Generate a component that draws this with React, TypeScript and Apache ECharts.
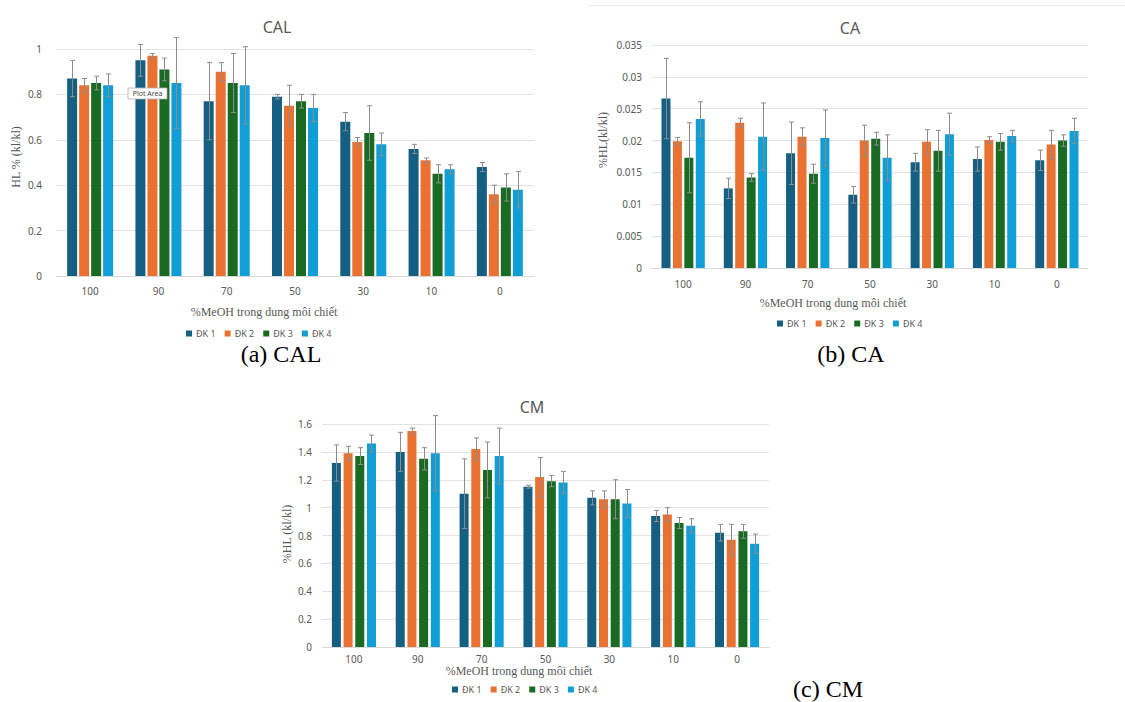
import React, { useEffect, useRef } from "react";
import * as echarts from "echarts";

const categories = ["100", "90", "70", "50", "30", "10", "0"];
const seriesNames = ["ĐK 1", "ĐK 2", "ĐK 3", "ĐK 4"];
const colors = ["#156082", "#E97132", "#196B24", "#0F9ED5"];

// CAL
const cal1 = [0.87, 0.95, 0.77, 0.79, 0.68, 0.56, 0.48];
const cal2 = [0.84, 0.97, 0.9, 0.75, 0.59, 0.51, 0.36];
const cal3 = [0.85, 0.91, 0.85, 0.77, 0.63, 0.45, 0.39];
const cal4 = [0.84, 0.85, 0.84, 0.74, 0.58, 0.47, 0.38];
const calErr1 = [0.08, 0.07, 0.17, 0.01, 0.04, 0.02, 0.02];
const calErr2 = [0.03, 0.01, 0.04, 0.09, 0.02, 0.01, 0.04];
const calErr3 = [0.03, 0.05, 0.13, 0.03, 0.12, 0.04, 0.06];
const calErr4 = [0.05, 0.2, 0.17, 0.06, 0.05, 0.02, 0.08];

// CA
const ca1 = [0.0266, 0.0125, 0.018, 0.0115, 0.0166, 0.0171, 0.0169];
const ca2 = [0.0199, 0.0228, 0.0206, 0.02, 0.0198, 0.0201, 0.0194];
const ca3 = [0.0173, 0.0142, 0.0148, 0.0203, 0.0184, 0.0198, 0.02];
const ca4 = [0.0234, 0.0206, 0.0204, 0.0173, 0.021, 0.0207, 0.0215];
const caErr1 = [0.0063, 0.0016, 0.0049, 0.0013, 0.0014, 0.0019, 0.0016];
const caErr2 = [0.0006, 0.0007, 0.0014, 0.0024, 0.0019, 0.0005, 0.0022];
const caErr3 = [0.0055, 0.0006, 0.0015, 0.001, 0.0032, 0.0013, 0.0009];
const caErr4 = [0.0027, 0.0053, 0.0044, 0.0036, 0.0033, 0.0009, 0.002];

// CM
const cm1 = [1.32, 1.4, 1.1, 1.15, 1.07, 0.94, 0.82];
const cm2 = [1.39, 1.55, 1.42, 1.22, 1.06, 0.95, 0.77];
const cm3 = [1.37, 1.35, 1.27, 1.19, 1.06, 0.89, 0.83];
const cm4 = [1.46, 1.39, 1.37, 1.18, 1.03, 0.87, 0.74];
const cmErr1 = [0.13, 0.14, 0.25, 0.01, 0.05, 0.04, 0.06];
const cmErr2 = [0.05, 0.02, 0.08, 0.14, 0.06, 0.05, 0.11];
const cmErr3 = [0.06, 0.08, 0.2, 0.04, 0.14, 0.04, 0.05];
const cmErr4 = [0.06, 0.27, 0.2, 0.08, 0.1, 0.05, 0.07];

const xName = "%MeOH trong dung môi chiết";
const SANS = "Noto Sans";
const SERIF = "Liberation Serif";
const GRAY = "#595959";

type Panel = {
  title: string;
  titleX: number;
  titleY: number;
  grid: { left: number; top: number; width: number; height: number };
  max: number;
  interval: number;
  values: number[][];
  errs: number[][];
  barWidth: number;
  gapPct: number;
  labelMargin: number;
  yLabelMargin: number;
  legendLeft: number;
  legendTop: number;
};

const panels: Panel[] = [
  {
    title: "CAL",
    titleX: 272,
    titleY: 14,
    grid: { left: 56, top: 49, width: 478, height: 227 },
    max: 1,
    interval: 0.2,
    values: [cal1, cal2, cal3, cal4],
    errs: [calErr1, calErr2, calErr3, calErr4],
    barWidth: 10,
    gapPct: 20,
    labelMargin: 10,
    yLabelMargin: 14,
    legendLeft: 181,
    legendTop: 324,
  },
  {
    title: "CA",
    titleX: 845,
    titleY: 15,
    grid: { left: 652, top: 45, width: 436, height: 223 },
    max: 0.035,
    interval: 0.005,
    values: [ca1, ca2, ca3, ca4],
    errs: [caErr1, caErr2, caErr3, caErr4],
    barWidth: 9,
    gapPct: 27,
    labelMargin: 11,
    yLabelMargin: 10,
    legendLeft: 772,
    legendTop: 314,
  },
  {
    title: "CM",
    titleX: 527,
    titleY: 394,
    grid: { left: 322, top: 424, width: 447, height: 223 },
    max: 1.6,
    interval: 0.2,
    values: [cm1, cm2, cm3, cm4],
    errs: [cmErr1, cmErr2, cmErr3, cmErr4],
    barWidth: 9,
    gapPct: 30,
    labelMargin: 7,
    yLabelMargin: 10,
    legendLeft: 447,
    legendTop: 680,
  },
];

function serifText(x: number, y: number, text: string, size: number, fill: string, rotate = false) {
  return {
    type: "text",
    x,
    y,
    rotation: rotate ? Math.PI / 2 : 0,
    style: {
      text,
      fontFamily: SERIF,
      fontSize: size,
      fill,
      align: "center",
      verticalAlign: "middle",
    },
  };
}

function buildOption() {
  const grid: any[] = [];
  const xAxis: any[] = [];
  const yAxis: any[] = [];
  const title: any[] = [];
  const legend: any[] = [];
  const series: any[] = [];

  panels.forEach((p, pi) => {
    grid.push({ ...p.grid, containLabel: false });
    title.push({
      text: p.title,
      left: p.titleX,
      top: p.titleY,
      textAlign: "center",
      textStyle: { fontFamily: SANS, fontSize: 16, fontWeight: "normal", color: GRAY },
    });
    xAxis.push({
      type: "category",
      gridIndex: pi,
      data: categories,
      axisLine: { lineStyle: { color: "#d9d9d9" } },
      axisTick: { show: false },
      axisLabel: { color: GRAY, fontFamily: SANS, fontSize: 10, margin: p.labelMargin },
    });
    yAxis.push({
      type: "value",
      gridIndex: pi,
      min: 0,
      max: p.max,
      interval: p.interval,
      axisLine: { show: false },
      axisTick: { show: false },
      splitLine: { lineStyle: { color: "#e3e3e3" } },
      axisLabel: { color: GRAY, fontFamily: SANS, fontSize: 10, margin: p.yLabelMargin },
    });
    legend.push({
      data: seriesNames,
      left: p.legendLeft,
      top: p.legendTop,
      itemWidth: 6,
      itemHeight: 6,
      itemGap: 9,
      icon: "rect",
      textStyle: { color: GRAY, fontFamily: SANS, fontSize: 9, padding: [0, 0, 0, -1] },
    });
    const step = p.barWidth * (1 + p.gapPct / 100);
    p.values.forEach((vals, k) => {
      series.push({
        type: "bar",
        name: seriesNames[k],
        xAxisIndex: pi,
        yAxisIndex: pi,
        data: vals,
        barWidth: p.barWidth,
        barGap: p.gapPct + "%",
        itemStyle: { color: colors[k] },
      });
    });
    p.values.forEach((vals, k) => {
      const offset = (k - 1.5) * step;
      series.push({
        type: "custom",
        name: "err" + pi + "_" + k,
        xAxisIndex: pi,
        yAxisIndex: pi,
        z: 5,
        data: vals.map((v, i) => [i, v, p.errs[k][i]]),
        encode: { x: 0, y: 1 },
        renderItem: (params: any, api: any) => {
          const c = api.value(0);
          const v = api.value(1);
          const e = api.value(2);
          const top = api.coord([c, v + e]);
          const bot = api.coord([c, Math.max(0, v - e)]);
          const x = Math.round(top[0] + offset) + 0.5;
          const cap = 2.5;
          const style = { stroke: "#8c8c8c", lineWidth: 1 };
          return {
            type: "group",
            children: [
              { type: "line", shape: { x1: x, y1: top[1], x2: x, y2: bot[1] }, style },
              { type: "line", shape: { x1: x - cap, y1: top[1], x2: x + cap, y2: top[1] }, style },
              { type: "line", shape: { x1: x - cap, y1: bot[1], x2: x + cap, y2: bot[1] }, style },
            ],
          };
        },
      });
    });
  });

  const graphic: any[] = [
    // y-axis names
    serifText(16, 157, "HL % (kl/kl)", 12, GRAY, true),
    serifText(603, 140, "%HL(kl/kl)", 12, GRAY, true),
    serifText(287, 534, "%HL (kl/kl)", 12, GRAY, true),
    // x-axis names
    serifText(264, 312, xName, 12, GRAY),
    serifText(833, 303, xName, 12, GRAY),
    serifText(519, 671, xName, 12, GRAY),
    // captions
    serifText(281, 354, "(a) CAL", 24, "#000"),
    serifText(851, 354, "(b) CA", 24, "#000"),
    serifText(828, 689, "(c) CM", 24, "#000"),
    // faint border line of the CA chart
    {
      type: "line",
      shape: { x1: 588, y1: 5.5, x2: 1125, y2: 5.5 },
      style: { stroke: "#ececec", lineWidth: 1 },
    },
    // "Plot Area" hover box
    {
      type: "rect",
      z: 100,
      shape: { x: 128, y: 88, width: 39, height: 11 },
      style: { fill: "#ffffff", stroke: "#b0b0b0", lineWidth: 0.8 },
    },
    {
      type: "text",
      z: 101,
      x: 147.5,
      y: 93.5,
      style: {
        text: "Plot Area",
        fontFamily: SANS,
        fontSize: 7,
        fill: "#444444",
        align: "center",
        verticalAlign: "middle",
      },
    },
  ];

  return {
    animation: false,
    backgroundColor: "#ffffff",
    title,
    grid,
    xAxis,
    yAxis,
    legend,
    series,
    graphic,
  };
}

export default function App() {
  const ref = useRef<HTMLDivElement>(null);
  useEffect(() => {
    if (!ref.current) return;
    const chart = echarts.init(ref.current, null, { renderer: "svg" });
    chart.setOption(buildOption() as any);
    return () => chart.dispose();
  }, []);
  return (
    <div
      ref={ref}
      style={{ position: "absolute", left: 0, top: 0, width: 1125, height: 702, background: "#fff" }}
    />
  );
}
